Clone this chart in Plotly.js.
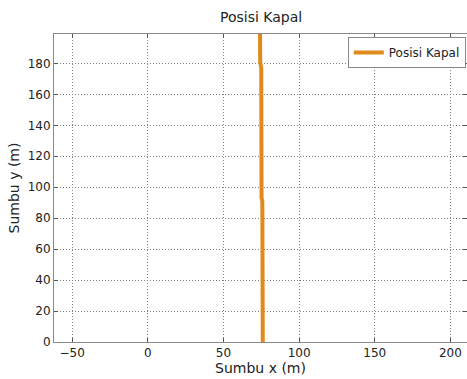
<!DOCTYPE html>
<html>
<head>
<meta charset="utf-8">
<script src="https://cdn.plot.ly/plotly-3.0.1.min.js"></script>
<style>html,body{margin:0;padding:0;background:#fff;}#chart{width:467px;height:379px;}</style>
</head>
<body>
<div id="chart"></div>
<script>
const seriesName = "Posisi Kapal";
const posX = [76.0, 76.0, 75.7, 75.7, 75.2, 75.0, 74.3, 74.2];
const posY = [0, 44, 46, 91, 93, 177, 181, 199];
const xTicks = [-50, 0, 50, 100, 150, 200];
const yTicks = [0, 20, 40, 60, 80, 100, 120, 140, 160, 180];

const font = "'DejaVu Sans', Verdana, sans-serif";
const trace = {
  x: posX, y: posY, type: 'scatter', mode: 'lines', name: seriesName,
  line: {color: '#E0891C', width: 4}
};
const axisCommon = {
  showline: true, linecolor: '#8a8a8a', linewidth: 1, mirror: 'ticks',
  ticks: 'inside', ticklen: 4, tickcolor: '#555',
  showgrid: true, gridcolor: '#808080', griddash: '1px,2px', gridwidth: 1,
  zeroline: false, tickfont: {family: font, size: 12, color: '#222'},
  tickmode: 'array'
};
const layout = {
  width: 467, height: 379,
  margin: {l: 54, r: 0, t: 34, b: 37},
  paper_bgcolor: '#fff', plot_bgcolor: '#fff',
  title: {text: 'Posisi Kapal', font: {family: font, size: 14, color: '#222'}, x: 0.559, xanchor: 'center', y: 0.955, yanchor: 'middle'},
  xaxis: Object.assign({}, axisCommon, {
    range: [-62, 211], tickvals: xTicks,
    title: {text: 'Sumbu x (m)', font: {family: font, size: 14, color: '#222'}, standoff: 0}
  }),
  yaxis: Object.assign({}, axisCommon, {
    range: [0, 199], tickvals: yTicks,
    title: {text: 'Sumbu y (m)', font: {family: font, size: 14, color: '#222'}, standoff: 4}
  }),
  showlegend: true,
  legend: {x: 0.997, xanchor: 'right', y: 0.99, yanchor: 'top',
    bgcolor: '#fff', bordercolor: '#888', borderwidth: 1, itemwidth: 30,
    font: {family: font, size: 12, color: '#222'}}
};
Plotly.newPlot('chart', [trace], layout, {displayModeBar: false, staticPlot: true});
</script>
</body>
</html>
